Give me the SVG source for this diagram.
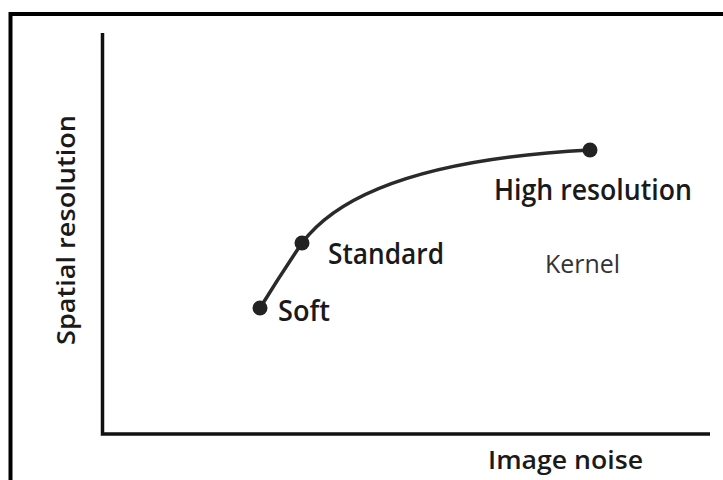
<svg xmlns="http://www.w3.org/2000/svg" width="723" height="480" viewBox="0 0 723 480">
<style>
.lbl{font-family:"Open Sans","Liberation Sans",sans-serif;font-weight:600;fill:#1a1a1a}
.thin{font-weight:400;fill:#333}
.ax{stroke:#111;stroke-width:3.5;fill:none;stroke-linecap:butt}
.dot{fill:#222}
</style>
<rect x="0" y="0" width="723" height="480" fill="#fff"/>
<path d="M10.5,480 V14 H723" fill="none" stroke="#000" stroke-width="4"/>
<g id="axes">
<path class="ax" d="M102.5,33 V434 H710"/>
</g>
<g id="connectors">
<path d="M260,308 Q281,274 302,243 C346,184 455,157 590,150" fill="none" stroke="#2a2a2a" stroke-width="3.5"/>
</g>
<g id="soft"><circle class="dot" cx="260" cy="308" r="7.5"/><text class="lbl" x="278" y="321" font-size="28" textLength="52" lengthAdjust="spacingAndGlyphs">Soft</text></g>
<g id="standard"><circle class="dot" cx="302" cy="243" r="7.5"/><text class="lbl" x="328" y="264" font-size="28" textLength="116" lengthAdjust="spacingAndGlyphs">Standard</text></g>
<g id="high"><circle class="dot" cx="590" cy="150" r="7.5"/><text class="lbl" x="494" y="200" font-size="28" textLength="198" lengthAdjust="spacingAndGlyphs">High resolution</text></g>
<g id="kernel"><text class="lbl thin" x="545" y="273" font-size="25" textLength="75" lengthAdjust="spacingAndGlyphs">Kernel</text></g>
<g id="xlabel"><text class="lbl" x="488" y="469" font-size="26" textLength="155" lengthAdjust="spacingAndGlyphs">Image noise</text></g>
<g id="ylabel"><text class="lbl" transform="translate(75,345) rotate(-90)" x="0" y="0" font-size="26" textLength="230" lengthAdjust="spacingAndGlyphs">Spatial resolution</text></g>
</svg>
